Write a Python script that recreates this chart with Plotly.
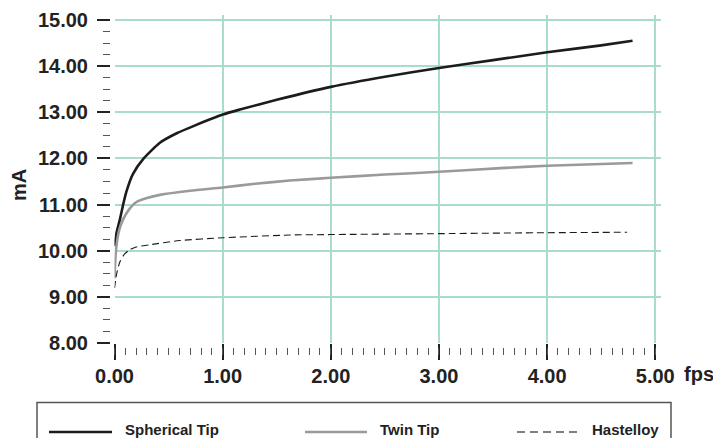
import plotly.graph_objects as go

# ---- data ----
series_names = ["Spherical Tip", "Twin Tip", "Hastelloy"]

spherical_x = [0, 0.02, 0.05, 0.08, 0.11, 0.17, 0.27, 0.42, 0.58, 0.73, 1.0, 1.16, 1.5,
               2.0, 2.5, 3.0, 3.5, 4.0, 4.5, 4.79]
spherical_y = [10.1, 10.4, 10.68, 11.0, 11.28, 11.66, 12.0, 12.34, 12.55, 12.7, 12.95, 13.06,
               13.27, 13.55, 13.77, 13.96, 14.13, 14.3, 14.45, 14.55]

twin_x = [0, 0.01, 0.03, 0.05, 0.08, 0.13, 0.2, 0.3, 0.42, 0.7, 1.0, 1.3, 1.62,
          2.0, 2.5, 3.0, 3.57, 4.0, 4.79]
twin_y = [9.4, 9.9, 10.3, 10.5, 10.68, 10.88, 11.05, 11.14, 11.21, 11.3, 11.37, 11.45, 11.52,
          11.58, 11.65, 11.71, 11.79, 11.84, 11.9]

hast_x = [0, 0.02, 0.05, 0.09, 0.14, 0.2, 0.33, 0.6, 1.0, 1.62, 2.0, 3.0, 4.0, 4.74]
hast_y = [9.19, 9.5, 9.76, 9.92, 10.02, 10.08, 10.13, 10.22, 10.28, 10.34, 10.35, 10.37, 10.39, 10.4]

x_tick_vals = [0, 1, 2, 3, 4, 5]
x_tick_text = ["0.00", "1.00", "2.00", "3.00", "4.00", "5.00"]
y_tick_vals = [8, 9, 10, 11, 12, 13, 14, 15]
y_tick_text = ["8.00", "9.00", "10.00", "11.00", "12.00", "13.00", "14.00", "15.00"]
x_title = "fps"
y_title = "mA"

# ---- styles ----
colors = ["#1c1c1c", "#9a9a9a", "#1c1c1c"]
widths = [2.6, 2.6, 1.1]
dashes = ["solid", "solid", "7px,4px"]
leg_colors = ["#1c1c1c", "#9a9a9a", "#555555"]
leg_widths = [2.6, 2.6, 1.5]
leg_dashes = ["solid", "solid", "8px,5px"]
GRID = "#a8dccb"
FONT = "Liberation Sans, Arial, sans-serif"

# page body adds an 8px offset; positions below are in target-picture pixels
OFF = 8
W, H = 721, 438

def sx(p):  # target px -> figure px
    return p - OFF

def sy(p):
    return p - OFF

ML = sx(110)
MR = W - sx(661)
MT = sy(15)
MB = H - sy(347)
PW = W - ML - MR
PH = H - MT - MB

def px_x(p):
    return (sx(p) - ML) / PW

def px_y(p):
    return (H - MB - sy(p)) / PH

xs = [spherical_x, twin_x, hast_x]
ys = [spherical_y, twin_y, hast_y]

fig = go.Figure()
for i, name in enumerate(series_names):
    fig.add_trace(go.Scatter(
        x=xs[i], y=ys[i], mode="lines", name=name,
        line=dict(color=colors[i], width=widths[i], dash=dashes[i], shape="spline", smoothing=0.6),
        showlegend=False, hoverinfo="skip"))

# dummy trace on the tick-only axes
fig.add_trace(go.Scatter(x=[None], y=[None], xaxis="x2", yaxis="y2", showlegend=False))

xrange = [0, 5.053]
yrange = [8, 15.108]
xdom = [px_x(114.5), 1]
ydom = [px_y(343), 1]

tickfont = dict(size=20, family=FONT, weight="bold", color="#222222")

fig.update_layout(
    width=W, height=H,
    margin=dict(l=ML, r=MR, t=MT, b=MB, autoexpand=False),
    paper_bgcolor="white", plot_bgcolor="white",
    font=dict(family=FONT, color="#222222"),
    showlegend=False,
    xaxis=dict(domain=xdom, range=xrange, showgrid=True, gridcolor=GRID, gridwidth=1.8,
               tickvals=x_tick_vals, showticklabels=False, ticks="outside", ticklen=16,
               tickwidth=1.6, tickcolor="#222222", zeroline=False, showline=False,
               anchor="y", automargin=False),
    yaxis=dict(domain=ydom, range=yrange, showgrid=True, gridcolor=GRID, gridwidth=1.8,
               tickvals=y_tick_vals, showticklabels=False, ticks="", zeroline=False,
               showline=False, anchor="x", automargin=False),
    xaxis2=dict(overlaying="x", domain=xdom, range=xrange, anchor="free", position=0,
                showgrid=False, zeroline=False, showline=False, automargin=False,
                tickvals=x_tick_vals, ticktext=x_tick_text, ticks="outside", ticklen=7,
                tickcolor="rgba(0,0,0,0)", tickfont=tickfont, ticklabelstandoff=4,
                minor=dict(dtick=0.1, tick0=0, ticks="outside", ticklen=7,
                           tickwidth=1.3, tickcolor="#555555")),
    yaxis2=dict(overlaying="y", domain=ydom, range=yrange, anchor="free", position=0,
                showgrid=False, zeroline=False, showline=False, automargin=False,
                tickvals=y_tick_vals, ticktext=y_tick_text, ticks="outside", ticklen=13,
                tickwidth=1.6, tickcolor="#222222", ticklabelstandoff=5,
                tickfont=tickfont,
                minor=dict(dtick=0.25, tick0=8, ticks="outside", ticklen=7,
                           tickwidth=1.3, tickcolor="#555555")),
)

annotations = [
    dict(text=y_title, x=px_x(19), y=px_y(185), xref="paper", yref="paper",
         textangle=-90, showarrow=False, xanchor="center", yanchor="middle",
         font=tickfont),
    dict(text=x_title, x=px_x(682), y=px_y(374), xref="paper", yref="paper",
         showarrow=False, xanchor="left", yanchor="middle",
         font=tickfont),
]

shapes = [dict(type="rect", xref="paper", yref="paper",
               x0=px_x(37), x1=px_x(671), y0=px_y(402.5), y1=px_y(470),
               line=dict(color="#555555", width=1.5), fillcolor="rgba(0,0,0,0)")]

leg_line_x = [(49, 112), (305, 367), (517, 578)]
leg_text_x = [123, 378, 590]
leg_y = 432
for i, name in enumerate(series_names):
    shapes.append(dict(type="line", xref="paper", yref="paper",
                       x0=px_x(leg_line_x[i][0]), x1=px_x(leg_line_x[i][1]),
                       y0=px_y(leg_y), y1=px_y(leg_y),
                       line=dict(color=leg_colors[i], width=leg_widths[i], dash=leg_dashes[i])))
    annotations.append(dict(text=name, x=px_x(leg_text_x[i]), y=px_y(leg_y - 2.5),
                            xref="paper", yref="paper", showarrow=False,
                            xanchor="left", yanchor="middle",
                            font=dict(size=15, family=FONT, weight="bold", color="#222222")))

fig.update_layout(annotations=annotations, shapes=shapes)

fig.write_html("out.html")
